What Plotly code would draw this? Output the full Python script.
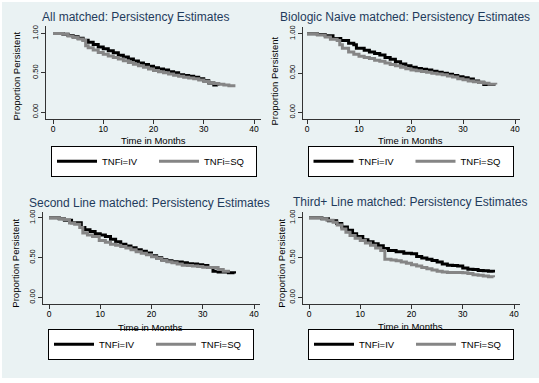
import plotly.graph_objects as go

W, H = 539, 383

panel_titles = [
    "All matched: Persistency Estimates",
    "Biologic Naive matched: Persistency Estimates",
    "Second Line matched: Persistency Estimates",
    "Third+ Line matched: Persistency Estimates",
]
series_names = ["TNFi=IV", "TNFi=SQ"]
x_ticks = [0, 10, 20, 30, 40]
y_ticks = [0.0, 0.5, 1.0]
y_tick_labels = ["0.00", "0.50", "1.00"]

# Panel 1: All matched
p1_iv_t = [0, 2, 3, 4, 5, 6, 7, 8, 9, 10, 11, 12, 13, 14, 15, 16, 17, 18, 19, 20, 21, 22, 23, 24, 25, 26, 27, 28, 29, 30, 31, 32, 32.8]
p1_iv_s = [1.0, 0.99, 0.975, 0.96, 0.94, 0.915, 0.89, 0.86, 0.83, 0.805, 0.78, 0.755, 0.725, 0.70, 0.675, 0.65, 0.625, 0.605, 0.585, 0.565, 0.55, 0.535, 0.515, 0.50, 0.475, 0.465, 0.455, 0.445, 0.425, 0.40, 0.37, 0.345, 0.335]
p1_sq_t = [0, 2, 3, 4, 5, 6, 6.5, 7, 8, 9, 10, 11, 12, 13, 14, 15, 16, 17, 18, 19, 20, 21, 22, 23, 24, 25, 26, 27, 28, 29, 30, 31, 32, 33, 34, 35, 36.3]
p1_sq_s = [1.0, 0.99, 0.97, 0.95, 0.93, 0.91, 0.845, 0.82, 0.79, 0.76, 0.735, 0.715, 0.695, 0.675, 0.655, 0.63, 0.61, 0.59, 0.57, 0.55, 0.53, 0.515, 0.50, 0.485, 0.47, 0.455, 0.445, 0.435, 0.425, 0.41, 0.39, 0.375, 0.365, 0.355, 0.345, 0.335, 0.335]

# Panel 2: Biologic Naive matched
p2_iv_t = [0, 2, 3.5, 5, 6.5, 8, 9, 9.5, 11, 12, 13, 14, 15, 16, 17, 18, 19, 20, 21, 22, 23, 24, 25, 26, 27, 28, 29, 30, 31, 32, 33, 34, 36.2]
p2_iv_s = [1.0, 0.99, 0.975, 0.94, 0.915, 0.88, 0.86, 0.815, 0.79, 0.77, 0.75, 0.73, 0.70, 0.675, 0.645, 0.615, 0.595, 0.575, 0.56, 0.55, 0.54, 0.525, 0.51, 0.50, 0.485, 0.47, 0.455, 0.44, 0.425, 0.40, 0.385, 0.355, 0.355]
p2_sq_t = [0, 2, 3.5, 4.5, 5.8, 6.3, 6.8, 8, 9, 10, 11, 12, 13, 14, 15, 16, 17, 18, 19, 20, 21, 22, 23, 24, 25, 26, 27, 28, 29, 30, 31, 32, 33, 34, 35, 36.3]
p2_sq_s = [1.0, 0.985, 0.96, 0.93, 0.915, 0.86, 0.815, 0.77, 0.74, 0.715, 0.70, 0.685, 0.665, 0.65, 0.63, 0.61, 0.595, 0.575, 0.555, 0.54, 0.53, 0.52, 0.51, 0.50, 0.49, 0.48, 0.465, 0.45, 0.43, 0.415, 0.40, 0.39, 0.38, 0.37, 0.36, 0.355]

# Panel 3: Second Line matched
p3_iv_t = [0, 2, 3, 4.4, 6.3, 7, 8, 9, 10, 11, 12, 13, 14, 15, 16, 17, 18, 19, 20, 21, 22, 23, 24, 25, 26, 27, 28, 29, 30, 31, 32, 33, 34, 35, 36.2]
p3_iv_s = [1.0, 0.99, 0.97, 0.94, 0.88, 0.85, 0.83, 0.80, 0.785, 0.765, 0.73, 0.70, 0.67, 0.645, 0.625, 0.60, 0.58, 0.56, 0.525, 0.50, 0.475, 0.46, 0.45, 0.445, 0.435, 0.425, 0.42, 0.41, 0.40, 0.375, 0.33, 0.32, 0.32, 0.31, 0.30]
p3_sq_t = [0, 2, 3, 4, 5, 6, 6.6, 7.5, 8.5, 9.8, 11, 12, 13, 14, 15, 16, 17, 18, 19, 20, 21, 22, 23, 24, 25, 26, 27, 28, 29, 30, 31, 32, 33, 34, 35.3]
p3_sq_s = [1.0, 0.99, 0.975, 0.935, 0.92, 0.88, 0.81, 0.785, 0.765, 0.715, 0.695, 0.67, 0.655, 0.64, 0.62, 0.60, 0.575, 0.555, 0.535, 0.51, 0.49, 0.465, 0.45, 0.435, 0.42, 0.405, 0.40, 0.395, 0.39, 0.38, 0.375, 0.375, 0.35, 0.33, 0.33]

# Panel 4: Third+ Line matched
p4_iv_t = [0, 2.5, 3.8, 5.4, 6.4, 7.5, 8.5, 9.3, 10.5, 11.5, 12.5, 13.5, 14.5, 15.5, 17, 18.5, 20, 21, 22, 23, 24, 25, 26, 27, 28, 29, 30, 31, 32, 33, 34, 35, 36]
p4_iv_s = [1.0, 0.99, 0.965, 0.93, 0.885, 0.845, 0.80, 0.765, 0.725, 0.70, 0.675, 0.65, 0.615, 0.59, 0.575, 0.555, 0.55, 0.515, 0.495, 0.48, 0.465, 0.445, 0.42, 0.405, 0.40, 0.395, 0.37, 0.355, 0.35, 0.34, 0.335, 0.33, 0.315]
p4_sq_t = [0, 2.5, 3.5, 4.7, 5.5, 6.4, 7.2, 8, 9, 10, 11, 12, 13, 14, 14.8, 16, 17, 18, 19, 20, 21, 22, 23, 24, 25, 26, 27, 28, 29, 30, 31, 32, 33, 34, 35, 36]
p4_sq_s = [1.0, 0.99, 0.97, 0.945, 0.91, 0.86, 0.82, 0.78, 0.745, 0.715, 0.685, 0.655, 0.62, 0.59, 0.48, 0.47, 0.46, 0.445, 0.43, 0.41, 0.395, 0.375, 0.36, 0.345, 0.33, 0.32, 0.315, 0.315, 0.315, 0.31, 0.30, 0.285, 0.28, 0.27, 0.26, 0.255]

panels_data = [
    (p1_iv_t, p1_iv_s, p1_sq_t, p1_sq_s),
    (p2_iv_t, p2_iv_s, p2_sq_t, p2_sq_s),
    (p3_iv_t, p3_iv_s, p3_sq_t, p3_sq_s),
    (p4_iv_t, p4_iv_s, p4_sq_t, p4_sq_s),
]

# ---- layout geometry (pixels) ----
BG = "#EAF2F3"
IV_COLOR = "#000000"
SQ_COLOR = "#858585"
FONT = "Liberation Sans, Arial, sans-serif"

# left, right, top, bottom, px of x=0, px of x=40, px of y=1, px of y=0
geom = [
    (46, 261, 24, 118, 53, 254, 31.7, 110.7),
    (303, 520, 25, 118, 307, 515, 32, 111),
    (43, 260, 211, 304, 49, 254, 217, 297),
    (303, 520, 211, 304, 309, 514, 217, 297),
]
title_pos = [(135, 15), (405, 15), (149, 202), (409.5, 201)]
ytitle_pos = [(17, 75), (275, 80), (16, 263), (282, 263)]
xtitle_pos = [(153, 139), (410, 139), (150, 327), (410, 326)]
legend_pos = [(154, 160), (410.5, 160), (151, 344), (411, 344)]

fig = go.Figure()
layout = dict(
    width=W, height=H,
    margin=dict(l=0, r=0, t=0, b=0),
    paper_bgcolor="white",
    plot_bgcolor="white",
    font=dict(family=FONT, color="#000"),
    annotations=[],
    shapes=[dict(type="rect", xref="paper", yref="paper", x0=2 / W, x1=1, y0=1 - 378 / H, y1=1,
                 fillcolor=BG, line=dict(width=0), layer="below")],
)

for i, (g, data) in enumerate(zip(geom, panels_data)):
    left, right, top, bottom, x0p, x40p, y1p, y0p = g
    xs = (x40p - x0p) / 40.0
    ys = (y0p - y1p)
    xr = [(left - x0p) / xs, (right - x0p) / xs]
    yr = [(y0p - bottom) / ys, (y0p - top) / ys]
    sfx = "" if i == 0 else str(i + 1)
    leg = "legend" if i == 0 else "legend" + str(i + 1)
    iv_t, iv_s, sq_t, sq_s = data
    for name, t, s, col in [(series_names[0], iv_t, iv_s, IV_COLOR), (series_names[1], sq_t, sq_s, SQ_COLOR)]:
        fig.add_trace(go.Scatter(
            x=t, y=s, mode="lines", name=name,
            line=dict(color=col, width=3, shape="hv"),
            xaxis="x" + sfx, yaxis="y" + sfx, legend=leg, showlegend=True,
            hoverinfo="skip",
        ))
    layout["xaxis" + sfx] = dict(
        domain=[left / W, right / W], anchor="y" + sfx, range=xr,
        tickvals=x_ticks, ticks="outside", ticklen=4, tickcolor="#333",
        showline=True, linecolor="#333", linewidth=1, showgrid=False, zeroline=False,
        tickfont=dict(size=8.5, family=FONT, color="#000"), ticklabelstandoff=-3,
        fixedrange=True,
    )
    layout["yaxis" + sfx] = dict(
        domain=[1 - bottom / H, 1 - top / H], anchor="x" + sfx, range=yr,
        tickvals=y_ticks, ticktext=y_tick_labels, tickangle=-90,
        ticks="outside", ticklen=4, tickcolor="#333",
        showline=True, linecolor="#333", linewidth=1,
        showgrid=True, gridcolor=BG, gridwidth=1, zeroline=False,
        tickfont=dict(size=7.5, family=FONT, color="#000"),
        fixedrange=True,
    )
    lx, ly = legend_pos[i]
    layout[leg] = dict(
        x=lx / W, y=1 - ly / H, xanchor="center", yanchor="middle",
        xref="paper", yref="paper",
        orientation="h", bgcolor="white", bordercolor="#000", borderwidth=1,
        font=dict(size=9.5, family=FONT, color="#000"),
        itemwidth=40, entrywidth=47, entrywidthmode="pixels",
        tracegroupgap=0, itemclick=False, itemdoubleclick=False,
    )
    tx, ty = title_pos[i]
    layout["annotations"].append(dict(
        text=panel_titles[i], x=tx / W, y=1 - ty / H, xref="paper", yref="paper",
        xanchor="center", yanchor="middle", showarrow=False,
        font=dict(size=12, family=FONT, color="#1f3b5c")))
    ax, ay = ytitle_pos[i]
    layout["annotations"].append(dict(
        text="Proportion Persistent", x=ax / W, y=1 - ay / H, xref="paper", yref="paper",
        xanchor="center", yanchor="middle", showarrow=False, textangle=-90,
        font=dict(size=9.5, family=FONT, color="#000")))
    bx, by = xtitle_pos[i]
    layout["annotations"].append(dict(
        text="Time in Months", x=bx / W, y=1 - by / H, xref="paper", yref="paper",
        xanchor="center", yanchor="middle", showarrow=False,
        font=dict(size=9.5, family=FONT, color="#000")))

fig.update_layout(**layout)
fig.write_html("out.html", config={"displayModeBar": False},
               post_script="document.body.style.margin='0';document.body.style.padding='0';")
